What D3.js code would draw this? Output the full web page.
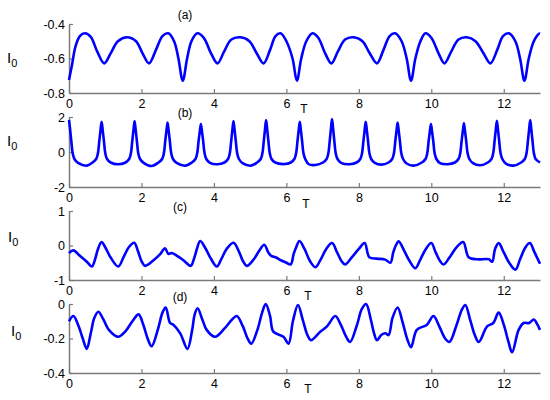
<!DOCTYPE html>
<html><head><meta charset="utf-8">
<script src="https://cdn.jsdelivr.net/npm/d3@7"></script>
<style>body{margin:0;background:#fff}svg{display:block}text{font-family:Arial,"Liberation Sans",Helvetica,sans-serif}</style>
</head><body><svg id="c" width="550" height="400"></svg>
<script>
const xTicks = [0,2,4,6,8,10,12];
const panelLabels = ["(a)","(b)","(c)","(d)"];
const yTicksA = [-0.4,-0.6,-0.8], yTicksB = [2,0,-2], yTicksC = [1,0,-1], yTicksD = [0,-0.2,-0.4];

const tA = [0,0.08,0.18,0.3,0.44,0.6,0.78,0.97,1.15,1.35,1.6,1.85,2.03,2.21,2.4,2.58,2.74,2.9,3.02,3.14,3.26,3.38,3.54,3.72,3.92,4.1,4.28,4.48,4.73,4.98,5.18,5.37,5.55,5.7,5.84,6.0,6.17,6.29,6.41,6.55,6.72,6.88,7.07,7.24,7.42,7.62,7.85,8.1,8.3,8.5,8.68,8.85,9.0,9.18,9.32,9.44,9.56,9.7,9.84,10.0,10.2,10.36,10.55,10.75,10.98,11.22,11.44,11.63,11.82,11.98,12.14,12.32,12.45,12.57,12.69,12.83,12.98,13.0];
const iA = [-0.725,-0.64,-0.53,-0.47,-0.454,-0.475,-0.56,-0.628,-0.57,-0.5,-0.477,-0.5,-0.57,-0.628,-0.55,-0.47,-0.454,-0.5,-0.6,-0.729,-0.6,-0.5,-0.454,-0.48,-0.57,-0.628,-0.56,-0.49,-0.477,-0.5,-0.57,-0.628,-0.55,-0.47,-0.454,-0.5,-0.6,-0.729,-0.6,-0.5,-0.454,-0.48,-0.57,-0.628,-0.56,-0.49,-0.477,-0.5,-0.57,-0.628,-0.55,-0.47,-0.454,-0.5,-0.6,-0.729,-0.6,-0.5,-0.454,-0.48,-0.57,-0.628,-0.56,-0.49,-0.477,-0.5,-0.57,-0.628,-0.55,-0.47,-0.454,-0.5,-0.6,-0.729,-0.6,-0.5,-0.456,-0.456];

const tB = [0,0.03,0.065,0.1,0.15,0.25,0.49,
0.65,0.75,0.8,0.835,0.87,0.9,0.93,0.965,1.0,1.05,1.15,1.35,
1.56,1.66,1.71,1.745,1.78,1.81,1.84,1.875,1.91,1.96,2.06,2.28,
2.47,2.57,2.62,2.655,2.69,2.72,2.75,2.785,2.82,2.87,2.97,3.22,
3.39,3.49,3.54,3.575,3.61,3.64,3.67,3.705,3.74,3.79,3.89,4.1,
4.29,4.39,4.44,4.475,4.51,4.54,4.57,4.605,4.64,4.69,4.79,5.02,
5.19,5.29,5.34,5.375,5.41,5.44,5.47,5.505,5.54,5.59,5.69,5.95,
6.12,6.22,6.27,6.305,6.34,6.37,6.4,6.435,6.47,6.52,6.62,6.8,
7.01,7.11,7.16,7.195,7.23,7.26,7.29,7.325,7.36,7.41,7.51,7.75,
7.94,8.04,8.09,8.125,8.16,8.19,8.22,8.255,8.29,8.34,8.44,8.62,
8.82,8.92,8.97,9.005,9.04,9.07,9.1,9.135,9.17,9.22,9.32,9.51,
9.74,9.84,9.89,9.925,9.96,9.99,10.02,10.055,10.09,10.14,10.24,10.45,
10.65,10.75,10.8,10.835,10.87,10.9,10.93,10.965,11.0,11.05,11.15,11.35,
11.56,11.66,11.71,11.745,11.78,11.81,11.84,11.875,11.91,11.96,12.06,12.27,
12.48,12.58,12.63,12.665,12.7,12.73,12.76,12.795,12.83,12.88,13.0];
const iB = [1.83,1.3,0.6,-0.05,-0.4,-0.62,-0.78,
-0.6,-0.4,-0.05,0.6,1.25,1.73,1.25,0.6,-0.05,-0.4,-0.6,-0.7,
-0.6,-0.4,-0.05,0.6,1.27,1.77,1.27,0.6,-0.05,-0.4,-0.62,-0.8,
-0.6,-0.4,-0.05,0.6,1.22,1.68,1.22,0.6,-0.05,-0.4,-0.62,-0.78,
-0.6,-0.4,-0.05,0.6,1.18,1.6,1.18,0.6,-0.05,-0.4,-0.62,-0.7,
-0.6,-0.4,-0.05,0.6,1.27,1.77,1.27,0.6,-0.05,-0.4,-0.64,-0.78,
-0.6,-0.4,-0.05,0.6,1.3,1.83,1.3,0.6,-0.05,-0.4,-0.6,-0.69,
-0.6,-0.4,-0.05,0.6,1.25,1.73,1.25,0.6,-0.05,-0.4,-0.7,-0.74,
-0.6,-0.4,-0.05,0.6,1.33,1.89,1.33,0.6,-0.05,-0.4,-0.62,-0.7,
-0.6,-0.4,-0.05,0.6,1.25,1.73,1.25,0.6,-0.05,-0.4,-0.62,-0.72,
-0.6,-0.4,-0.05,0.6,1.22,1.68,1.22,0.6,-0.05,-0.4,-0.66,-0.78,
-0.6,-0.4,-0.05,0.6,1.18,1.6,1.18,0.6,-0.05,-0.4,-0.63,-0.7,
-0.6,-0.4,-0.05,0.6,1.2,1.64,1.2,0.6,-0.05,-0.4,-0.64,-0.76,
-0.6,-0.4,-0.05,0.6,1.28,1.79,1.28,0.6,-0.05,-0.4,-0.66,-0.78,
-0.6,-0.4,-0.05,0.6,1.3,1.83,1.3,0.6,-0.05,-0.4,-0.6];

const tC = [0,0.12,0.3,0.5,0.63,0.72,0.8,0.9,1.0,1.15,1.36,1.5,1.65,1.8,1.9,2.0,2.1,2.34,2.51,2.65,2.74,2.84,2.98,3.15,3.36,3.46,3.53,3.62,3.75,3.9,4.08,4.2,4.35,4.54,4.7,4.8,4.91,5.1,5.25,5.39,5.5,5.58,5.7,5.83,6.0,6.12,6.2,6.27,6.36,6.5,6.65,6.8,6.95,7.1,7.26,7.4,7.52,7.62,7.8,8.0,8.16,8.29,8.5,8.73,8.87,8.95,9.02,9.1,9.25,9.4,9.56,9.7,9.85,10.0,10.12,10.24,10.34,10.5,10.7,10.88,11.03,11.26,11.59,11.68,11.76,11.86,12.0,12.15,12.32,12.45,12.6,12.72,12.85,13.0];
const iC = [-0.22,-0.14,-0.3,-0.48,-0.61,-0.4,-0.1,0.1,-0.05,-0.35,-0.61,-0.35,-0.05,0.08,-0.15,-0.45,-0.59,-0.42,-0.26,-0.08,-0.24,-0.22,-0.3,-0.42,-0.59,-0.35,-0.1,0.13,-0.05,-0.35,-0.61,-0.4,-0.1,0.08,-0.2,-0.45,-0.59,-0.4,-0.15,0.02,-0.2,-0.3,-0.34,-0.42,-0.5,-0.55,-0.25,-0.05,0.13,-0.1,-0.45,-0.63,-0.4,-0.1,0.07,-0.2,-0.45,-0.55,-0.35,-0.1,0.07,-0.34,-0.38,-0.41,-0.5,-0.2,0.0,0.12,-0.15,-0.45,-0.66,-0.4,-0.1,0.07,-0.2,-0.45,-0.55,-0.35,-0.05,0.1,-0.34,-0.4,-0.4,-0.47,-0.1,0.07,-0.2,-0.5,-0.7,-0.4,-0.05,0.07,-0.2,-0.53];

const tD = [0,0.12,0.25,0.38,0.49,0.6,0.7,0.81,0.95,1.1,1.36,1.55,1.75,1.92,2.05,2.17,2.28,2.45,2.58,2.67,2.79,2.88,3.07,3.27,3.4,3.47,3.55,3.68,3.8,4.03,4.3,4.5,4.63,4.8,4.93,5.03,5.2,5.33,5.43,5.55,5.64,5.92,6.06,6.18,6.32,6.45,6.58,6.68,6.94,7.12,7.35,7.5,7.65,7.76,7.95,8.08,8.2,8.33,8.42,8.5,8.62,8.73,8.82,8.93,9.07,9.2,9.33,9.44,9.6,9.88,10.06,10.22,10.38,10.5,10.7,10.85,10.94,11.07,11.2,11.31,11.54,11.71,11.86,12.0,12.13,12.23,12.41,12.55,12.7,12.83,12.93,13.0];
const iD = [-0.1,-0.07,-0.12,-0.2,-0.26,-0.17,-0.08,-0.045,-0.09,-0.15,-0.19,-0.16,-0.1,-0.06,-0.12,-0.2,-0.245,-0.15,-0.05,-0.02,-0.11,-0.12,-0.17,-0.26,-0.15,-0.06,-0.025,-0.09,-0.15,-0.19,-0.14,-0.09,-0.07,-0.13,-0.2,-0.23,-0.15,-0.05,0.0,-0.07,-0.16,-0.19,-0.23,-0.1,-0.006,-0.09,-0.18,-0.21,-0.16,-0.13,-0.07,-0.12,-0.19,-0.22,-0.12,-0.03,0.0,-0.09,-0.17,-0.21,-0.18,-0.17,-0.18,-0.08,-0.02,-0.1,-0.2,-0.25,-0.15,-0.12,-0.07,-0.13,-0.2,-0.22,-0.12,-0.03,-0.006,-0.09,-0.18,-0.22,-0.13,-0.11,-0.05,-0.12,-0.22,-0.28,-0.15,-0.11,-0.11,-0.09,-0.12,-0.15];

const panels = [
  {t:tA, v:iA, ticks:yTicksA, dom:[-0.8,-0.4], top:24, bot:93, lab:{x:185,y:19}, T:{x:304,y:113}, I:{x:7,y:63}},
  {t:tB, v:iB, ticks:yTicksB, dom:[-2,2], top:117, bot:187, lab:{x:185,y:117}, T:{x:306,y:208}, I:{x:7,y:146}},
  {t:tC, v:iC, ticks:yTicksC, dom:[-1,1], top:211, bot:280, lab:{x:180,y:211}, T:{x:308,y:300}, I:{x:8,y:242}},
  {t:tD, v:iD, ticks:yTicksD, dom:[-0.4,0], top:304, bot:373, lab:{x:180,y:301}, T:{x:308,y:393}, I:{x:11,y:336}}
];

const svg = d3.select("#c");
const x = d3.scaleLinear().domain([0,13]).range([69,540]);
const axisColor = "#7a7a7a";

panels.forEach((p,k)=>{
  const y = d3.scaleLinear().domain(p.dom).range([p.bot,p.top]);
  const g = svg.append("g");
  const xa = g.append("g").attr("transform",`translate(0,${p.bot})`)
    .call(d3.axisBottom(x).tickValues(xTicks).tickFormat(d3.format("d")).tickSizeInner(-4).tickSizeOuter(0).tickPadding(6));
  const ya = g.append("g").attr("transform",`translate(${x(0)},0)`)
    .call(d3.axisLeft(y).tickValues(p.ticks).tickFormat(d=>String(d)).tickSizeInner(-4).tickSizeOuter(0).tickPadding(4));
  [xa,ya].forEach(a=>{
    a.select(".domain").attr("stroke",axisColor).attr("stroke-width",1.5);
    a.selectAll(".tick line").attr("stroke",axisColor).attr("stroke-width",1.2);
    a.selectAll(".tick text").attr("fill","#000").style("font-size","12.5px");
  });
  const pts = p.t.map((t,i)=>[t,p.v[i]]);
  g.append("path").datum(pts)
    .attr("d", d3.line().x(d=>x(d[0])).y(d=>y(d[1])).curve(d3.curveCatmullRom.alpha(0.5)))
    .attr("fill","none").attr("stroke","#0000ff").attr("stroke-width",2.6).attr("stroke-linejoin","round");
  g.append("text").attr("x",p.lab.x).attr("y",p.lab.y).attr("text-anchor","middle").style("font-size","12px").text(panelLabels[k]);
  g.append("text").attr("x",p.T.x).attr("y",p.T.y).attr("text-anchor","middle").style("font-size","12px").text("T");
  const il = g.append("text").attr("x",p.I.x).attr("y",p.I.y).style("font-size","15px");
  il.append("tspan").text("I");
  il.append("tspan").attr("dy",4).style("font-size","11px").text("0");
});
</script></body></html>
